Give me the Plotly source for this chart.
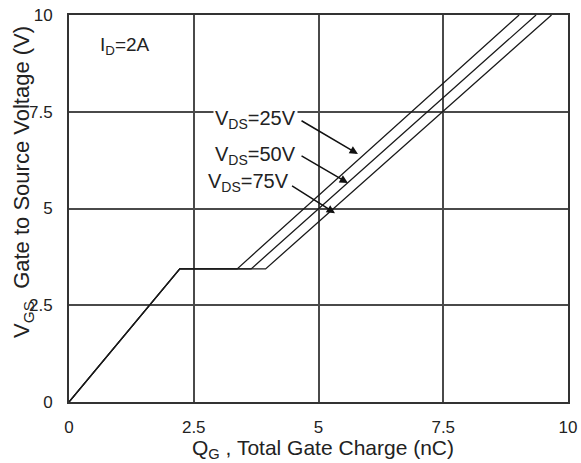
import plotly.graph_objects as go

# Gate charge curves (Q_G in nC, V_GS in V)
q_25 = [0, 2.22, 3.37, 9.02]
v_25 = [0, 3.44, 3.44, 10]
q_50 = [0, 2.22, 3.65, 9.36]
v_50 = [0, 3.44, 3.44, 10]
q_75 = [0, 2.22, 3.94, 9.67]
v_75 = [0, 3.44, 3.44, 10]

labels = ["V<sub>DS</sub>=25V", "V<sub>DS</sub>=50V", "V<sub>DS</sub>=75V"]
label_x = [4.59, 4.59, 4.44]
label_y = [7.29, 6.38, 5.66]
arrow_head_x = [5.79, 5.59, 5.33]
arrow_head_y = [6.41, 5.66, 4.88]
arrow_tail_x = [4.63, 4.63, 4.44]
arrow_tail_y = [7.29, 6.38, 5.61]

x_ticks = [0, 2.5, 5, 7.5, 10]
y_ticks = [0, 2.5, 5, 7.5, 10]
x_tick_text = ["0", "2.5", "5", "7.5", "10"]
y_tick_text = ["0", "2.5", "5", "7.5", "10"]

FONT = "Liberation Sans, Arial, sans-serif"
W, H = 581, 463
ml, mr, mt, mb = 69, 13, 15, 61
pw, ph = W - ml - mr, H - mt - mb

fig = go.Figure()
for q, v in [(q_25, v_25), (q_50, v_50), (q_75, v_75)]:
    fig.add_trace(go.Scatter(x=q, y=v, mode="lines",
                             line=dict(color="#1a1a1a", width=1.3),
                             showlegend=False, hoverinfo="skip"))

annotations = []
for t, lx, ly, hx, hy, tx, ty in zip(labels, label_x, label_y, arrow_head_x,
                                     arrow_head_y, arrow_tail_x, arrow_tail_y):
    annotations.append(dict(x=hx, y=hy, ax=tx, ay=ty, xref="x", yref="y",
                            axref="x", ayref="y", text="", showarrow=True,
                            arrowhead=2, arrowsize=1.1, arrowwidth=1.5,
                            arrowcolor="#111"))
    annotations.append(dict(x=lx, y=ly, xref="x", yref="y", text=t,
                            showarrow=False, xanchor="right", yanchor="middle",
                            bgcolor="white", borderpad=1,
                            font=dict(family=FONT, size=20, color="#222")))

annotations.append(dict(x=0.58, y=9.2, xref="x", yref="y",
                        text="I<sub>D</sub>=2A", showarrow=False,
                        xanchor="left", yanchor="middle",
                        font=dict(family=FONT, size=19, color="#222")))
annotations.append(dict(x=(23 - ml) / pw, y=(H - mb - 182) / ph,
                        xref="paper", yref="paper",
                        text="V<sub>GS</sub>  Gate to Source Voltage (V)",
                        showarrow=False, textangle=-90,
                        xanchor="center", yanchor="middle",
                        font=dict(family=FONT, size=22, color="#222")))
annotations.append(dict(x=(323 - ml) / pw, y=(H - mb - 449) / ph,
                        xref="paper", yref="paper",
                        text="Q<sub>G</sub> , Total Gate Charge (nC)",
                        showarrow=False, xanchor="center", yanchor="middle",
                        font=dict(family=FONT, size=21, color="#222")))

axis_common = dict(showgrid=True, gridcolor="#4a4a4a", gridwidth=1.5,
                   showline=True, linecolor="#333", linewidth=2, mirror=True,
                   zeroline=False, ticks="", automargin=False,
                   tickfont=dict(family=FONT, size=17, color="#222"))

fig.update_layout(
    width=W, height=H,
    margin=dict(l=ml, r=mr, t=mt, b=mb, autoexpand=False),
    paper_bgcolor="white", plot_bgcolor="white",
    xaxis=dict(range=[0, 10], tickvals=x_ticks, ticktext=x_tick_text,
               ticklabelstandoff=9, **axis_common),
    yaxis=dict(range=[0, 10], tickvals=y_ticks, ticktext=y_tick_text,
               ticklabelstandoff=11, **axis_common),
    annotations=annotations,
)
fig.write_html("out.html")
